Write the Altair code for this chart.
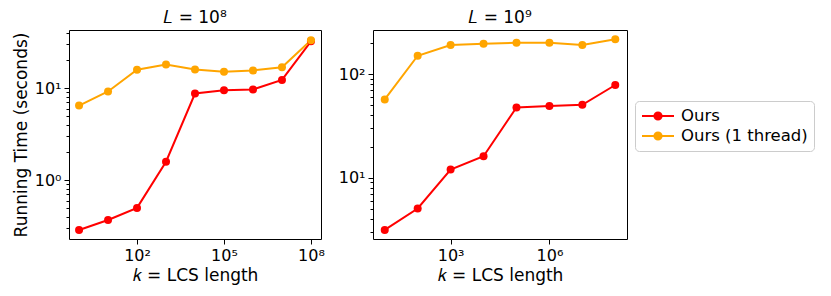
import altair as alt
import pandas as pd

# ---- data ----
k_left = [1e0, 1e1, 1e2, 1e3, 1e4, 1e5, 1e6, 1e7, 1e8]
ours_left = [0.287, 0.369, 0.499, 1.585, 8.75, 9.5, 9.67, 12.3, 32.3]
one_thread_left = [6.47, 9.2, 15.85, 18.1, 16.0, 15.1, 15.6, 16.9, 33.1]

k_right = [1e1, 1e2, 1e3, 1e4, 1e5, 1e6, 1e7, 1e8]
ours_right = [3.12, 5.03, 11.97, 16.1, 47.7, 49.2, 50.7, 78.7]
one_thread_right = [57.1, 151, 192, 197, 202, 202, 192, 218]

series_names = ["Ours", "Ours (1 thread)"]
series_colors = ["#ff0000", "#ffa500"]

left_title = "𝐿 = 10⁸"
right_title = "𝐿 = 10⁹"
x_title = "𝑘 = LCS length"
y_title = "Running Time (seconds)"

left_x_ticks = [1e2, 1e5, 1e8]
right_x_ticks = [1e3, 1e6]
left_y_ticks = [0.3, 0.4, 0.5, 0.6, 0.7, 0.8, 0.9, 1, 2, 3, 4, 5, 6, 7, 8, 9, 10, 20, 30, 40]
right_y_ticks = [3, 4, 5, 6, 7, 8, 9, 10, 20, 30, 40, 50, 60, 70, 80, 90, 100, 200]

FONT = "DejaVu Sans"
TICK_FS = 16
TITLE_FS = 17
LEGEND_FS = 16.5


def frame(ks, ours, one):
    rows = []
    for k, v in zip(ks, ours):
        rows.append({"k": k, "t": v, "series": series_names[0], "o": 0})
    for k, v in zip(ks, one):
        rows.append({"k": k, "t": v, "series": series_names[1], "o": 1})
    return pd.DataFrame(rows)


MAJOR = "abs(log(datum.value)/LN10 - round(log(datum.value)/LN10)) < 0.001"
LABEL = ("(" + MAJOR + ") ? '10' + substring('⁰¹²³⁴⁵⁶⁷⁸⁹', round(log(datum.value)/LN10), "
         "round(log(datum.value)/LN10) + 1) : ''")

# line with a filled-looking circle marker (concentric stroked rings)
legend_path = ("M-1,0L3,0"
               "M1.45,0A0.45,0.45 0 1,0 0.55,0A0.45,0.45 0 1,0 1.45,0"
               "M1.25,0A0.25,0.25 0 1,0 0.75,0A0.25,0.25 0 1,0 1.25,0"
               "M1.06,0A0.06,0.06 0 1,0 0.94,0A0.06,0.06 0 1,0 1.06,0")

LEGEND = alt.Legend(title=None, symbolType=legend_path, symbolSize=256,
                    symbolStrokeWidth=2, orient="none", legendX=566, legendY=71)


def panel(df, xdom, ydom, xticks, yticks, title, show_ytitle, w, h):
    x = alt.X("k:Q", scale=alt.Scale(type="log", domain=xdom, nice=False),
              axis=alt.Axis(values=xticks, labelExpr=LABEL, title=x_title,
                            grid=False, domain=False, tickSize=5))
    y = alt.Y("t:Q", scale=alt.Scale(type="log", domain=ydom, nice=False),
              axis=alt.Axis(values=yticks, labelExpr=LABEL,
                            title=y_title if show_ytitle else None,
                            grid=False, domain=False,
                            tickSize={"condition": {"test": MAJOR, "value": 5}, "value": 3}))
    base = alt.Chart(df)
    color = alt.Color("series:N", scale=alt.Scale(domain=series_names, range=series_colors),
                      legend=LEGEND)
    line = base.mark_line(strokeWidth=2).encode(x=x, y=y, color=color, order="o:Q")
    pts = base.mark_point(filled=True, size=64, opacity=1).encode(
        x=x, y=y, color=color, order="o:Q")
    return alt.layer(line, pts).properties(
        width=w, height=h,
        title=alt.TitleParams(title, fontSize=TITLE_FS, font=FONT, fontWeight="normal", offset=3),
    )


left = panel(frame(k_left, ours_left, one_thread_left), [0.45, 2.22e8], [0.229, 42.9],
             left_x_ticks, left_y_ticks, left_title, True, 252, 209)
right = panel(frame(k_right, ours_right, one_thread_right), [4.4, 2.27e8], [2.55, 268],
              right_x_ticks, right_y_ticks, right_title, False, 254, 209)

chart = alt.hconcat(left, right, spacing=12).resolve_scale(
    x="independent", y="independent", color="shared"
).configure_view(stroke="#000000", strokeWidth=1).configure_axis(
    labelFont=FONT, titleFont=FONT, labelFontSize=TICK_FS, titleFontSize=TITLE_FS,
    labelColor="#000", titleColor="#000", tickColor="#000", tickWidth=1,
    titleFontWeight="normal", labelPadding=3,
).configure_legend(
    labelFont=FONT, labelFontSize=LEGEND_FS, labelColor="#000",
    strokeColor="#cccccc", fillColor="#ffffff", cornerRadius=4, padding=6,
    rowPadding=2, labelOffset=22,
).properties(padding={"left": 3, "top": 0, "right": 5, "bottom": 5})

chart.save("out.html", embed_options={"renderer": "svg", "actions": False})
